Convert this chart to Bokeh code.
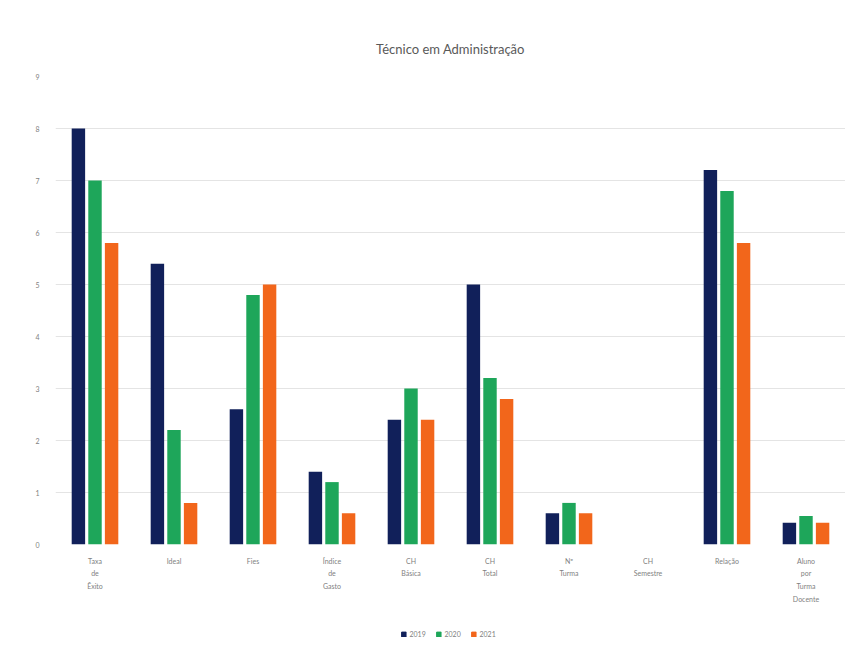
from bokeh.plotting import figure
from bokeh.layouts import column
from bokeh.models import ColumnDataSource, FactorRange, Range1d, Legend, LegendItem, FixedTicker
from bokeh.transform import dodge
from bokeh.embed import file_html
from bokeh.resources import INLINE

categories = ["Taxa\nde\nÊxito", "Ideal", "Fies", "Índice\nde\nGasto", "CH\nBásica",
              "CH\nTotal", "Nº\nTurma", "CH\nSemestre", "Relação", "Aluno\npor\nTurma\nDocente"]
series_names = ["2019", "2020", "2021"]
s2019 = [8.0, 5.4, 2.6, 1.4, 2.4, 5.0, 0.6, 0.0, 7.2, 0.42]
s2020 = [7.0, 2.2, 4.8, 1.2, 3.0, 3.2, 0.8, 0.0, 6.8, 0.55]
s2021 = [5.8, 0.8, 5.0, 0.6, 2.4, 2.8, 0.6, 0.0, 5.8, 0.42]
y_ticks = [0, 1, 2, 3, 4, 5, 6, 7, 8, 9]
colors = ["#11205a", "#1ea65a", "#f2661b"]

src = ColumnDataSource(dict(cat=categories, a=s2019, b=s2020, c=s2021))

p = figure(width=845, height=615, output_backend="svg", toolbar_location=None,
           x_range=FactorRange(*categories, range_padding=0), y_range=Range1d(0, 9),
           min_border_left=55, min_border_right=0, min_border_top=76, min_border_bottom=71)

p.title.text = "Técnico em Administração"
p.title.align = "center"
p.title.text_font = "Lato"
p.title.text_font_size = "13px"
p.title.text_font_style = "normal"
p.title.text_color = "#595959"
p.title.standoff = 40

p.vbar(x=dodge("cat", -0.21, range=p.x_range), top="a", width=0.17, source=src,
       color=colors[0], line_color=None)
p.vbar(x=dodge("cat", 0.0, range=p.x_range), top="b", width=0.17, source=src,
       color=colors[1], line_color=None)
p.vbar(x=dodge("cat", 0.21, range=p.x_range), top="c", width=0.17, source=src,
       color=colors[2], line_color=None)

p.outline_line_color = None
p.xgrid.grid_line_color = None
p.ygrid.grid_line_color = "#e4e4e4"
p.yaxis.ticker = FixedTicker(ticks=y_ticks)
for ax in (p.xaxis[0], p.yaxis[0]):
    ax.axis_line_color = None
    ax.major_tick_line_color = None
    ax.minor_tick_line_color = None
    ax.major_label_text_font = "Lato"
    ax.major_label_text_font_size = "7px"
    ax.major_label_text_color = "#7f7f7f"
p.xaxis.major_label_standoff = 6
p.yaxis.major_label_standoff = 10
p.xaxis.major_label_text_line_height = 1.6

# legend strip below the chart (legend-only renderers sit outside the visible range)
q = figure(width=845, height=38, output_backend="svg", toolbar_location=None,
           x_range=Range1d(0, 1), y_range=Range1d(0, 1),
           min_border=0)
q.axis.visible = False
q.grid.visible = False
q.outline_line_color = None
lr = [q.vbar(x=[5], top=[1], bottom=[0], width=0.1, fill_color=c, line_color=c)
      for c in colors]
legend = Legend(items=[LegendItem(label=n, renderers=[r]) for n, r in zip(series_names, lr)],
                orientation="horizontal", location="center",
                label_text_font="Lato", label_text_font_size="7px", label_text_color="#7f7f7f",
                glyph_width=6, glyph_height=6, label_standoff=3, spacing=6, label_height=8,
                border_line_color=None, background_fill_alpha=0, padding=2, margin=0)
q.add_layout(legend)

open("out.html", "w").write(file_html(column(p, q, spacing=0), INLINE))
